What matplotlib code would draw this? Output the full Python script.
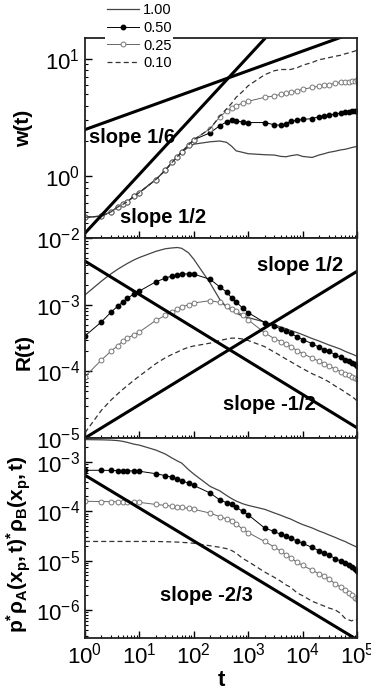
import numpy as np
import matplotlib
matplotlib.use("Agg")
import matplotlib.pyplot as plt
from matplotlib.lines import Line2D
from matplotlib.ticker import LogLocator, NullFormatter

plt.rcParams['font.family'] = ['Liberation Sans', 'DejaVu Sans']
plt.rcParams['mathtext.fontset'] = 'custom'
plt.rcParams['mathtext.rm'] = 'Liberation Sans'
plt.rcParams['mathtext.it'] = 'Liberation Sans:italic'
plt.rcParams['mathtext.bf'] = 'Liberation Sans:bold'

# sampling times shared by all curves
t = [1, 2, 3, 4, 5, 6, 8, 10, 20, 30, 40, 50, 60, 80, 100, 200, 300, 400, 500, 600,
     800, 1000, 2000, 3000, 4000, 5000, 6000, 8000, 1e4, 1.5e4, 2e4, 2.5e4, 3e4, 4e4,
     5e4, 6e4, 7e4, 8e4, 9e4, 1e5]
p_labels = ["1.00", "0.50", "0.25", "0.10"]

# width of the reaction front w(t)
w_100 = [0.45, 0.46, 0.50, 0.55, 0.58, 0.61, 0.68, 0.73, 0.94, 1.13, 1.32, 1.47, 1.60, 1.78,
         1.88, 1.97, 2.0, 1.95, 1.8, 1.65, 1.6, 1.56, 1.53, 1.52, 1.48, 1.47, 1.5, 1.53, 1.48,
         1.45, 1.52, 1.56, 1.6, 1.64, 1.68, 1.7, 1.73, 1.76, 1.78, 1.8]
w_050 = [0.45, 0.46, 0.50, 0.55, 0.58, 0.61, 0.68, 0.73, 0.94, 1.13, 1.32, 1.47, 1.62, 1.85,
         2.05, 2.35, 2.7, 2.9, 3.0, 2.95, 2.9, 2.87, 2.87, 2.75, 2.72, 2.8, 2.95, 3.0, 3.05,
         3.1, 3.22, 3.28, 3.3, 3.4, 3.45, 3.5, 3.52, 3.58, 3.6, 3.62]
w_025 = [0.45, 0.46, 0.50, 0.55, 0.58, 0.61, 0.68, 0.73, 0.94, 1.13, 1.32, 1.47, 1.62, 1.85,
         2.05, 2.55, 3.2, 3.6, 3.85, 4.0, 4.2, 4.35, 4.7, 4.83, 5.0, 5.1, 5.2, 5.35, 5.5,
         5.7, 5.85, 5.95, 6.0, 6.2, 6.3, 6.35, 6.4, 6.45, 6.5, 6.55]
w_010 = [0.45, 0.46, 0.50, 0.55, 0.58, 0.61, 0.68, 0.73, 0.94, 1.13, 1.32, 1.47, 1.62, 1.85,
         2.05, 2.55, 3.25, 3.75, 4.2, 4.7, 5.3, 5.9, 7.3, 7.9, 8.1, 8.1, 8.1, 8.4, 8.8,
         9.3, 9.8, 10.0, 10.2, 10.5, 10.7, 11.0, 11.2, 11.4, 11.6, 11.8]

# global reaction rate R(t)
r_100 = [1.4e-3, 2.25e-3, 2.9e-3, 3.4e-3, 3.8e-3, 4.15e-3, 4.7e-3, 5.1e-3, 6.3e-3, 6.9e-3,
         7.1e-3, 7.2e-3, 7.0e-3, 6.0e-3, 4.8e-3, 2.1e-3, 1.2e-3, 9.2e-4, 8.2e-4, 7.5e-4,
         6.7e-4, 6.4e-4, 5.5e-4, 5.0e-4, 4.6e-4, 4.35e-4, 4.1e-4, 3.8e-4, 3.55e-4, 3.1e-4,
         2.85e-4, 2.65e-4, 2.5e-4, 2.3e-4, 2.15e-4, 2.0e-4, 1.9e-4, 1.82e-4, 1.75e-4, 1.68e-4]
r_050 = [3.4e-4, 5.5e-4, 7.7e-4, 9.5e-4, 1.1e-3, 1.25e-3, 1.45e-3, 1.6e-3, 2.2e-3, 2.5e-3,
         2.7e-3, 2.8e-3, 2.88e-3, 2.9e-3, 2.87e-3, 2.4e-3, 1.85e-3, 1.55e-3, 1.25e-3, 1.1e-3,
         8.8e-4, 7.6e-4, 5.4e-4, 4.8e-4, 4.3e-4, 4.0e-4, 3.7e-4, 3.3e-4, 3.0e-4, 2.6e-4,
         2.3e-4, 2.1e-4, 2.0e-4, 1.78e-4, 1.62e-4, 1.5e-4, 1.42e-4, 1.35e-4, 1.28e-4, 1.2e-4]
r_025 = [8.3e-5, 1.48e-4, 2.0e-4, 2.43e-4, 2.85e-4, 3.15e-4, 3.55e-4, 3.9e-4, 5.8e-4, 6.9e-4,
         7.8e-4, 8.6e-4, 9.2e-4, 1.0e-3, 1.06e-3, 1.15e-3, 1.08e-3, 9.5e-4, 8.7e-4, 8.0e-4,
         7.0e-4, 5.9e-4, 3.8e-4, 3.1e-4, 2.8e-4, 2.55e-4, 2.35e-4, 2.05e-4, 1.85e-4, 1.58e-4,
         1.42e-4, 1.3e-4, 1.22e-4, 1.08e-4, 9.9e-5, 9.2e-5, 8.7e-5, 8.3e-5, 7.9e-5, 7.6e-5]
r_010 = [1.2e-5, 2.6e-5, 3.7e-5, 4.6e-5, 5.4e-5, 6.1e-5, 7.4e-5, 8.5e-5, 1.3e-4, 1.6e-4,
         1.8e-4, 1.95e-4, 2.1e-4, 2.3e-4, 2.4e-4, 2.65e-4, 2.9e-4, 3.05e-4, 3.15e-4, 3.15e-4,
         3.05e-4, 2.9e-4, 2.35e-4, 1.95e-4, 1.7e-4, 1.52e-4, 1.4e-4, 1.22e-4, 1.1e-4, 9.2e-5,
         8.3e-5, 7.6e-5, 7.0e-5, 6.0e-5, 5.4e-5, 4.9e-5, 4.5e-5, 4.2e-5, 3.9e-5, 3.6e-5]

# local rate p*rhoA*rhoB at the front position x_p
q_100 = [2.85e-3, 2.82e-3, 2.78e-3, 2.72e-3, 2.62e-3, 2.5e-3, 2.3e-3, 2.2e-3, 1.75e-3, 1.45e-3,
         1.2e-3, 1.05e-3, 9.5e-4, 7.0e-4, 5.7e-4, 3.2e-4, 2.6e-4, 2.1e-4, 1.8e-4, 1.62e-4,
         1.42e-4, 1.32e-4, 1.1e-4, 9.3e-5, 8.3e-5, 7.5e-5, 7.0e-5, 6.0e-5, 5.4e-5, 4.6e-5,
         4.0e-5, 3.65e-5, 3.35e-5, 2.95e-5, 2.65e-5, 2.45e-5, 2.25e-5, 2.1e-5, 1.98e-5, 1.88e-5]
q_050 = [6.8e-4, 6.8e-4, 6.75e-4, 6.7e-4, 6.7e-4, 6.65e-4, 6.6e-4, 6.5e-4, 5.8e-4, 5.3e-4,
         4.9e-4, 4.5e-4, 4.2e-4, 3.7e-4, 3.35e-4, 2.35e-4, 1.7e-4, 1.5e-4, 1.4e-4, 1.2e-4,
         1.0e-4, 8.5e-5, 4.6e-5, 3.9e-5, 3.4e-5, 3.1e-5, 2.85e-5, 2.5e-5, 2.25e-5, 1.85e-5,
         1.6e-5, 1.42e-5, 1.3e-5, 1.1e-5, 9.8e-6, 8.8e-6, 8.0e-6, 7.3e-6, 6.7e-6, 6.2e-6]
q_025 = [1.6e-4, 1.58e-4, 1.57e-4, 1.56e-4, 1.55e-4, 1.55e-4, 1.55e-4, 1.52e-4, 1.38e-4, 1.32e-4,
         1.27e-4, 1.23e-4, 1.2e-4, 1.15e-4, 1.1e-4, 9.2e-5, 7.8e-5, 7.0e-5, 6.5e-5, 5.6e-5,
         4.3e-5, 3.7e-5, 2.45e-5, 1.9e-5, 1.55e-5, 1.3e-5, 1.15e-5, 9.2e-6, 8.0e-6, 6.4e-6,
         5.4e-6, 4.8e-6, 4.3e-6, 3.4e-6, 2.9e-6, 2.55e-6, 2.2e-6, 2.0e-6, 1.78e-6, 1.65e-6]
q_010 = [2.45e-5, 2.45e-5, 2.45e-5, 2.45e-5, 2.45e-5, 2.45e-5, 2.45e-5, 2.45e-5, 2.45e-5, 2.42e-5,
         2.4e-5, 2.38e-5, 2.35e-5, 2.3e-5, 2.25e-5, 2.0e-5, 1.87e-5, 1.75e-5, 1.6e-5, 1.42e-5,
         1.1e-5, 9.6e-6, 5.9e-6, 4.6e-6, 3.8e-6, 3.2e-6, 2.9e-6, 2.2e-6, 1.95e-6, 1.5e-6,
         1.32e-6, 1.2e-6, 1.1e-6, 1.0e-6, 8.5e-7, 6.8e-7, 6.3e-7, 6.0e-7, 6.5e-7, 6.2e-7]

# power-law guides: (prefactor, exponent, label, label t, label y)
guides_w = [(0.33, 1 / 2, "slope 1/2", 4.4, 0.45), (2.5, 1 / 6, "slope 1/6", 1.2, 2.15)]
guides_r = [(1e-5, 1 / 2, "slope 1/2", 1450, 3.9e-3), (4.5e-3, -1 / 2, "slope -1/2", 340, 3.2e-5)]
guides_q = [(5.4e-4, -2 / 3, "slope -2/3", 24, 2.0e-6)]

styles = [
    dict(color="#444444", lw=0.9, ls="-"),
    dict(color="black", lw=0.7, ls="-", marker="o", ms=3.2, mfc="black", mec="black"),
    dict(color="#666666", lw=0.7, ls="-", marker="o", ms=3.5, mfc="white", mec="#777777", mew=0.7),
    dict(color="#333333", lw=0.9, ls=(0, (4, 2.5))),
]

fig = plt.figure(figsize=(3.71, 6.92), dpi=100)
left, width, height = 85 / 371, 272 / 371, 200 / 692
bottoms = [1 - 238 / 692, 1 - 438 / 692, 1 - 638 / 692]
axes = [fig.add_axes([left, b, width, height]) for b in bottoms]

panels = [
    (axes[0], [w_100, w_050, w_025, w_010], guides_w, (0.3, 15), "w(t)", 0.55),
    (axes[1], [r_100, r_050, r_025, r_010], guides_r, (1e-5, 1e-2), "R(t)", 0.43),
    (axes[2], [q_100, q_050, q_025, q_010], guides_q, (2.7e-7, 3.07e-3),
     r"$\mathbf{p^{*}ρ_{A}(x_{p},t)^{*}ρ_{B}(x_{p},t)}$", 0.47),
]

t_arr = np.array(t, dtype=float)
t_line = np.array([1.0, 1e5])
for ax, series, guides, ylim, ylab, ycen in panels:
    for vals, st in zip(series, styles):
        ax.plot(t_arr, vals, **st)
    for a, s, txt, tx, ty in guides:
        ax.plot(t_line, a * t_line ** s, color="black", lw=2.2)
        ax.text(tx, ty, txt, fontsize=14.5, fontweight="bold", ha="left", va="center")
    ax.set_xscale("log")
    ax.set_yscale("log")
    ax.set_xlim(1, 1e5)
    ax.set_ylim(*ylim)
    ax.set_ylabel(ylab, fontsize=15, fontweight="bold")
    ax.yaxis.set_label_coords(-0.19, ycen)
    ax.xaxis.set_major_locator(LogLocator(base=10, numticks=10))
    ax.xaxis.set_minor_locator(LogLocator(base=10, subs=np.arange(2, 10), numticks=10))
    ax.yaxis.set_minor_locator(LogLocator(base=10, subs=np.arange(2, 10), numticks=20))
    ax.yaxis.set_minor_formatter(NullFormatter())
    ax.tick_params(which="both", direction="in", top=False, right=False, labelsize=16)
    ax.tick_params(which="major", length=5, width=1)
    ax.tick_params(which="minor", length=2.5, width=0.8)
    for sp in ax.spines.values():
        sp.set_linewidth(1.3)
        sp.set_color("#222222")

for ax in axes[:2]:
    ax.tick_params(labelbottom=False)
axes[2].set_xlabel("t", fontsize=16, fontweight="bold")
axes[2].xaxis.set_label_coords(0.5, -0.16)

handles = [Line2D([], [], **st) for st in styles]
fig.legend(handles, p_labels, loc="upper left", bbox_to_anchor=(98 / 371, 1.008),
           fontsize=10.5, numpoints=1, handlelength=2.2, handletextpad=0.3,
           labelspacing=0.25, borderpad=0.1, frameon=True, facecolor="white",
           edgecolor="none", framealpha=1.0, fancybox=False)

fig.savefig("out.png", dpi=100)
